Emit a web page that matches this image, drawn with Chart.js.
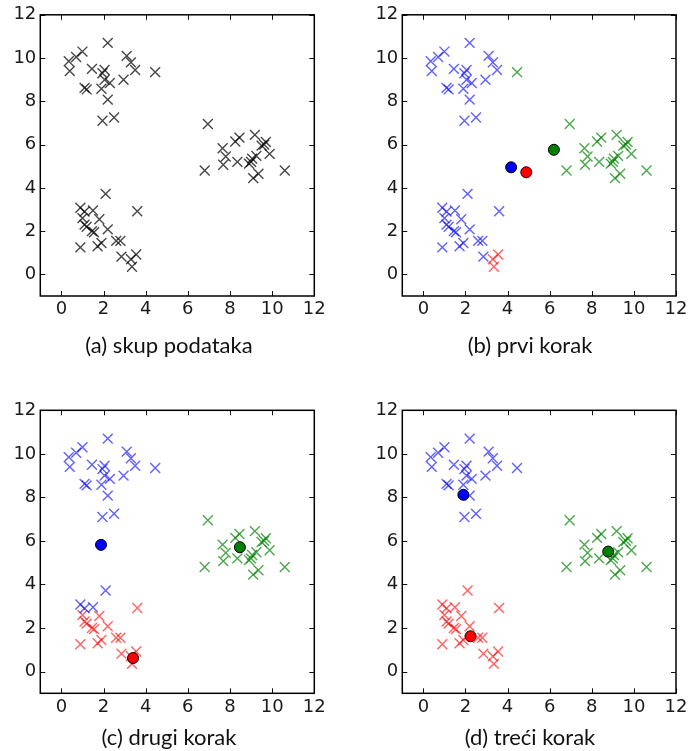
<!DOCTYPE html>
<html>
<head>
<meta charset="utf-8">
<script src="https://cdn.jsdelivr.net/npm/chart.js@4.4.1/dist/chart.umd.min.js"></script>
<style>
  html, body { margin: 0; padding: 0; background: #fff; }
  #fig { position: relative; width: 691px; height: 751px; overflow: hidden; }
  .panel { position: absolute; }
  .caption {
    position: absolute; width: 220px; text-align: center; white-space: nowrap;
    font: 22px Lato, "Open Sans", sans-serif; line-height: 24px; color: #111;
  }
</style>
</head>
<body>
<div id="fig"></div>
<script>
/* ── k-means: podaci ── */
const TICKS = [0, 2, 4, 6, 8, 10, 12];

// gornja lijeva skupina
const TOP_X = [2.2, 1.0, 0.7, 0.35, 0.4, 1.45, 3.1, 3.3, 3.5, 4.45, 2.05, 1.95, 2.3, 2.95, 1.1, 1.2, 1.9, 2.2, 1.95, 2.5, 2.05];
const TOP_Y = [10.7, 10.3, 10.05, 9.85, 9.4, 9.5, 10.1, 9.8, 9.45, 9.35, 9.45, 9.3, 8.85, 9.0, 8.62, 8.55, 8.58, 8.08, 7.1, 7.25, 9.0];
// donja lijeva skupina
const LOW_X = [2.1, 0.9, 1.1, 1.5, 3.6, 1.0, 1.1, 1.2, 1.8, 1.45, 1.55, 2.2, 0.9, 1.72, 1.9, 2.6, 2.8, 2.85, 3.3, 3.35, 3.55];
const LOW_Y = [3.72, 3.08, 2.9, 2.95, 2.92, 2.6, 2.3, 2.2, 2.55, 2.0, 1.95, 2.08, 1.25, 1.3, 1.45, 1.55, 1.55, 0.82, 0.7, 0.35, 0.92];
// desna skupina
const RIGHT_X = [6.95, 6.8, 7.65, 7.8, 7.68, 8.25, 8.45, 8.35, 8.9, 9.18, 9.05, 9.25, 9.1, 9.35, 9.5, 9.7, 9.62, 9.88, 10.6, 9.0];
const RIGHT_Y = [6.95, 4.8, 5.83, 5.45, 5.07, 6.14, 6.32, 5.2, 5.12, 6.45, 5.35, 5.48, 4.45, 4.65, 5.95, 6.12, 6.0, 5.57, 4.8, 5.2];

// pripadnost točaka po koraku (k crna, b plava, r crvena, g zelena)
const STEP_A = 'kkkkkkkkkkkkkkkkkkkkk' + 'kkkkkkkkkkkkkkkkkkkkk' + 'kkkkkkkkkkkkkkkkkkkk';
const STEP_B = 'bbbbbbbbbgbbbbbbbbbbb' + 'bbbbbbbbbbbbbbbbbbrrr' + 'gggggggggggggggggggg';
const STEP_C = 'bbbbbbbbbbbbbbbbbbbbb' + 'bbbbrrrrrrrrrrrrrrrrr' + 'gggggggggggggggggggg';
const STEP_D = 'bbbbbbbbbbbbbbbbbbbbb' + 'rrrrrrrrrrrrrrrrrrrrr' + 'gggggggggggggggggggg';

// centroidi: plavi, crveni, zeleni
const CENTERS_B = [[4.17, 4.95], [4.89, 4.72], [6.2, 5.76]];
const CENTERS_C = [[1.88, 5.82], [3.4, 0.62], [8.47, 5.71]];
const CENTERS_D = [[1.9, 8.12], [2.24, 1.62], [8.78, 5.51]];

const ALL_X = TOP_X.concat(LOW_X, RIGHT_X);
const ALL_Y = TOP_Y.concat(LOW_Y, RIGHT_Y);

const CROSS_COLORS = { k: 'rgba(0,0,0,0.72)', b: 'rgba(0,0,255,0.62)', r: 'rgba(255,0,0,0.62)', g: 'rgba(0,128,0,0.7)' };
const CENTER_COLORS = ['#0000ff', '#ff0000', '#008000'];

const PANELS = [
    { caption: '(a) skup podataka', step: STEP_A, centers: null, box: [0, 0, 345, 375], area: [40.3, 14, 314.3, 296], capY: 333 },
    { caption: '(b) prvi korak', step: STEP_B, centers: CENTERS_B, box: [345, 0, 346, 375], area: [402.3, 14, 676, 296], capY: 333 },
    { caption: '(c) drugi korak', step: STEP_C, centers: CENTERS_C, box: [0, 375, 345, 376], area: [40.3, 410.3, 314.3, 693.3], capY: 725 },
    { caption: '(d) treći korak', step: STEP_D, centers: CENTERS_D, box: [345, 375, 346, 376], area: [402.3, 410.3, 676, 693.3], capY: 725 },
];

// okvir i unutarnje crtice kao u matplotlibu
const frameTicks = {
    id: 'frameTicks',
    afterDatasetsDraw(chart) {
        const { ctx, chartArea: a, scales: { x, y } } = chart;
        const len = 5;
        ctx.save();
        ctx.strokeStyle = '#111';
        ctx.lineWidth = 1;
        ctx.beginPath();
        TICKS.forEach(v => {
            const px = Math.round(x.getPixelForValue(v)) + 0.5;
            ctx.moveTo(px, a.bottom); ctx.lineTo(px, a.bottom - len);
            ctx.moveTo(px, a.top); ctx.lineTo(px, a.top + len);
            const py = Math.round(y.getPixelForValue(v)) + 0.5;
            ctx.moveTo(a.left, py); ctx.lineTo(a.left + len, py);
            ctx.moveTo(a.right, py); ctx.lineTo(a.right - len, py);
        });
        ctx.stroke();
        ctx.lineWidth = 1.5;
        ctx.strokeStyle = '#000';
        ctx.strokeRect(a.left, a.top, a.right - a.left, a.bottom - a.top);
        ctx.restore();
    },
};

function buildDatasets(step, centers) {
    const sets = [];
    ['k', 'b', 'g', 'r'].forEach(c => {
        const pts = [];
        for (let i = 0; i < ALL_X.length; i++) {
            if (step[i] === c) pts.push({ x: ALL_X[i], y: ALL_Y[i] });
        }
        if (!pts.length) return;
        sets.push({
            data: pts,
            pointStyle: 'crossRot',
            pointRadius: 7,
            pointHoverRadius: 7,
            pointBorderWidth: 1.4,
            pointBorderColor: CROSS_COLORS[c],
            pointBackgroundColor: CROSS_COLORS[c],
            order: 2,
        });
    });
    if (centers) {
        sets.push({
            data: centers.map(([x, y]) => ({ x, y })),
            pointStyle: 'circle',
            pointRadius: 5.5,
            pointHoverRadius: 5.5,
            pointBorderWidth: 1,
            pointBorderColor: '#000',
            pointBackgroundColor: CENTER_COLORS,
            order: 1,
        });
    }
    return sets;
}

function renderPanel(p) {
    const [L, T, W, H] = p.box;
    const [aL, aT, aR, aB] = p.area;
    const fig = document.getElementById('fig');

    const wrap = document.createElement('div');
    wrap.className = 'panel';
    wrap.style.cssText = `left:${L}px;top:${T}px;width:${W}px;height:${H}px`;
    const canvas = document.createElement('canvas');
    canvas.width = W; canvas.height = H;
    wrap.appendChild(canvas);
    fig.appendChild(wrap);

    const cap = document.createElement('div');
    cap.className = 'caption';
    cap.textContent = p.caption;
    cap.style.left = (L < 300 ? 169 : 530) - 110 + 'px';
    cap.style.top = p.capY + 'px';
    fig.appendChild(cap);

    const yw = aL - L, xh = T + H - aB;
    const tickFont = { family: '"DejaVu Sans", sans-serif', size: 18 };

    new Chart(canvas.getContext('2d'), {
        type: 'scatter',
        data: { datasets: buildDatasets(p.step, p.centers) },
        options: {
            responsive: false,
            animation: false,
            layout: { padding: { left: 0, top: aT - T, right: L + W - aR, bottom: 0 } },
            plugins: { legend: { display: false }, tooltip: { enabled: false } },
            scales: {
                x: {
                    type: 'linear', min: -1, max: 12,
                    afterBuildTicks: s => { s.ticks = TICKS.map(v => ({ value: v })); },
                    afterFit: s => { s.height = xh; },
                    grid: { display: false, drawTicks: false },
                    border: { display: false },
                    ticks: { font: tickFont, color: '#1a1a1a', padding: 3, maxRotation: 0, autoSkip: false },
                },
                y: {
                    type: 'linear', min: -1, max: 12,
                    afterBuildTicks: s => { s.ticks = TICKS.map(v => ({ value: v })); },
                    afterFit: s => { s.width = yw; },
                    grid: { display: false, drawTicks: false },
                    border: { display: false },
                    ticks: { font: tickFont, color: '#1a1a1a', padding: 4, autoSkip: false },
                },
            },
        },
        plugins: [frameTicks],
    });
}

PANELS.forEach(renderPanel);
</script>
</body>
</html>
